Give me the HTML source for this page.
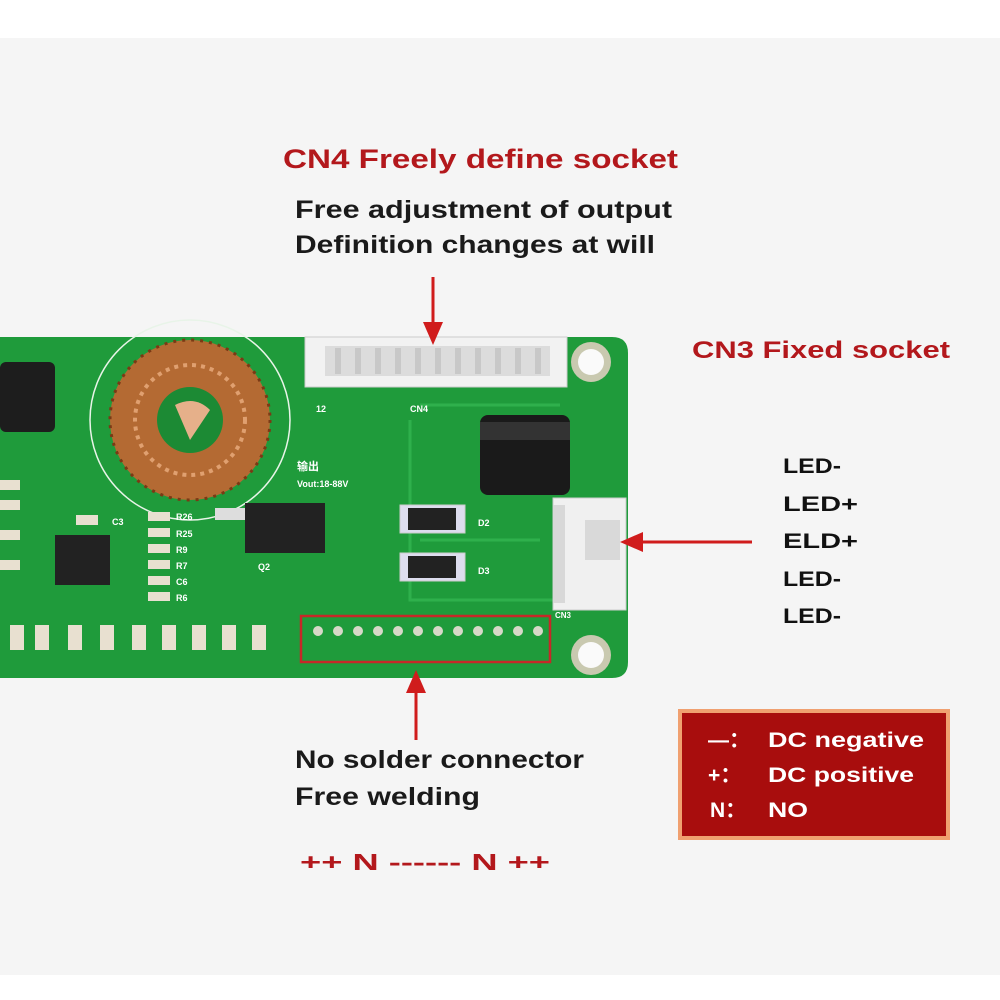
<!DOCTYPE html>
<html><head><meta charset="utf-8"><style>
html,body{margin:0;padding:0;background:#fff}
svg{display:block}
text{font-family:"Liberation Sans","Noto Sans CJK SC",sans-serif;font-weight:bold}
</style></head><body>
<svg width="1000" height="1000" viewBox="0 0 1000 1000" xmlns="http://www.w3.org/2000/svg">
<rect x="0" y="0" width="1000" height="1000" fill="#ffffff"/>
<rect x="0" y="38" width="1000" height="937" fill="#f5f5f5"/>
<!-- PCB -->
<path d="M0 337 H612 Q628 337 628 353 V662 Q628 678 612 678 H0 Z" fill="#1f9b3b"/>
<path d="M420 405 H560 M410 420 V600 H560 M420 540 H540" stroke="#2fb04c" stroke-width="3" fill="none"/>
<!-- CN4 connector -->
<rect x="305" y="337" width="262" height="50" fill="#f2f2f2" stroke="#ccc"/>
<rect x="325" y="346" width="225" height="30" fill="#dcdcdc"/>
<g fill="#c8c8c8"><rect x="335" y="348" width="6" height="26"/><rect x="355" y="348" width="6" height="26"/><rect x="375" y="348" width="6" height="26"/><rect x="395" y="348" width="6" height="26"/><rect x="415" y="348" width="6" height="26"/><rect x="435" y="348" width="6" height="26"/><rect x="455" y="348" width="6" height="26"/><rect x="475" y="348" width="6" height="26"/><rect x="495" y="348" width="6" height="26"/><rect x="515" y="348" width="6" height="26"/><rect x="535" y="348" width="6" height="26"/></g>
<text x="316" y="412" font-size="9" fill="#fff" font-weight="normal">12</text>
<text x="410" y="412" font-size="9" fill="#fff" font-weight="normal">CN4</text>
<!-- mounting holes -->
<circle cx="591" cy="362" r="20" fill="#c9c9b0"/><circle cx="591" cy="362" r="13" fill="#fafafa"/>
<circle cx="591" cy="655" r="20" fill="#c9c9b0"/><circle cx="591" cy="655" r="13" fill="#fafafa"/>
<!-- toroid -->
<circle cx="190" cy="420" r="100" fill="none" stroke="#e8f4e8" stroke-width="1.5"/>
<circle cx="190" cy="420" r="80" fill="#b46a33"/>
<circle cx="190" cy="420" r="80" fill="none" stroke="#7a3a15" stroke-width="3" stroke-dasharray="3 6"/>
<circle cx="190" cy="420" r="55" fill="none" stroke="#e0a070" stroke-width="4" stroke-dasharray="4 5"/>
<circle cx="190" cy="420" r="33" fill="#1c8a34"/>
<path d="M175 405 Q195 395 210 410 L190 440 Z" fill="#e6b08a"/>
<!-- capacitors -->
<rect x="0" y="362" width="55" height="70" rx="6" fill="#1d1d1d"/>
<rect x="480" y="415" width="90" height="80" rx="8" fill="#1a1a1a"/>
<rect x="480" y="422" width="90" height="18" fill="#333"/>
<!-- CN3 -->
<rect x="553" y="498" width="73" height="112" fill="#f0f0f0" stroke="#ccc"/>
<rect x="553" y="505" width="12" height="98" fill="#d8d8d8"/>
<rect x="585" y="520" width="35" height="40" fill="#d9d9d9"/>
<text x="555" y="618" font-size="8" fill="#fff" font-weight="normal">CN3</text>
<!-- Q2, D2, D3 -->
<rect x="245" y="503" width="80" height="50" fill="#222"/>
<rect x="215" y="508" width="30" height="12" fill="#ddd"/>
<rect x="400" y="505" width="65" height="28" fill="#dde" stroke="#ccc"/><rect x="408" y="508" width="48" height="22" fill="#222"/>
<rect x="400" y="553" width="65" height="28" fill="#dde" stroke="#ccc"/><rect x="408" y="556" width="48" height="22" fill="#222"/>
<rect x="55" y="535" width="55" height="50" fill="#222"/>
<text x="297" y="470" font-size="11" fill="#fff">输出</text>
<text x="297" y="487" font-size="9" fill="#fff" font-weight="normal">Vout:18-88V</text>
<!-- small resistors -->
<g fill="#e8e0d0"><rect x="148" y="512" width="22" height="9"/><rect x="148" y="528" width="22" height="9"/><rect x="148" y="544" width="22" height="9"/><rect x="148" y="560" width="22" height="9"/><rect x="148" y="576" width="22" height="9"/><rect x="148" y="592" width="22" height="9"/>
<rect x="10" y="625" width="14" height="25"/><rect x="35" y="625" width="14" height="25"/><rect x="68" y="625" width="14" height="25"/><rect x="100" y="625" width="14" height="25"/><rect x="132" y="625" width="14" height="25"/><rect x="162" y="625" width="14" height="25"/><rect x="192" y="625" width="14" height="25"/><rect x="222" y="625" width="14" height="25"/><rect x="252" y="625" width="14" height="25"/>
<rect x="76" y="515" width="22" height="10"/><rect x="0" y="480" width="20" height="10"/><rect x="0" y="500" width="20" height="10"/><rect x="0" y="530" width="20" height="10"/><rect x="0" y="560" width="20" height="10"/></g>
<g fill="#fff" font-size="9" font-weight="normal"><text x="176" y="520">R26</text><text x="176" y="537">R25</text><text x="176" y="553">R9</text><text x="176" y="569">R7</text><text x="176" y="585">C6</text><text x="176" y="601">R6</text><text x="112" y="525">C3</text><text x="258" y="570">Q2</text><text x="478" y="526">D2</text><text x="478" y="574">D3</text></g>
<!-- pin row -->
<rect x="301" y="616" width="249" height="46" fill="none" stroke="#c62828" stroke-width="2.5"/>
<g fill="#d8d8c8"><circle cx="318" cy="631" r="5"/><circle cx="338" cy="631" r="5"/><circle cx="358" cy="631" r="5"/><circle cx="378" cy="631" r="5"/><circle cx="398" cy="631" r="5"/><circle cx="418" cy="631" r="5"/><circle cx="438" cy="631" r="5"/><circle cx="458" cy="631" r="5"/><circle cx="478" cy="631" r="5"/><circle cx="498" cy="631" r="5"/><circle cx="518" cy="631" r="5"/><circle cx="538" cy="631" r="5"/></g>
<!-- arrows -->
<g stroke="#d01c1c" stroke-width="3" fill="#d01c1c">
<line x1="433" y1="277" x2="433" y2="325"/><polygon points="423,322 443,322 433,345" stroke="none"/>
<line x1="752" y1="542" x2="640" y2="542"/><polygon points="643,532 643,552 620,542" stroke="none"/>
<line x1="416" y1="740" x2="416" y2="690"/><polygon points="406,693 426,693 416,670" stroke="none"/>
</g>
<!-- texts -->
<text x="283" y="168" font-size="27" fill="#b3181c" textLength="395" lengthAdjust="spacingAndGlyphs">CN4 Freely define socket</text>
<text x="295" y="218" font-size="25" fill="#1a1a1a" textLength="377" lengthAdjust="spacingAndGlyphs">Free adjustment of output</text>
<text x="295" y="253" font-size="25" fill="#1a1a1a" textLength="360" lengthAdjust="spacingAndGlyphs">Definition changes at will</text>
<text x="692" y="358" font-size="24" fill="#b3181c" textLength="258" lengthAdjust="spacingAndGlyphs">CN3 Fixed socket</text>
<g font-size="21" fill="#111"><text x="783" y="473" textLength="58" lengthAdjust="spacingAndGlyphs">LED-</text><text x="783" y="511" textLength="75" lengthAdjust="spacingAndGlyphs">LED+</text><text x="783" y="548" textLength="75" lengthAdjust="spacingAndGlyphs">ELD+</text><text x="783" y="586" textLength="58" lengthAdjust="spacingAndGlyphs">LED-</text><text x="783" y="623" textLength="58" lengthAdjust="spacingAndGlyphs">LED-</text></g>
<text x="295" y="768" font-size="25" fill="#1a1a1a" textLength="289" lengthAdjust="spacingAndGlyphs">No solder connector</text>
<text x="295" y="805" font-size="25" fill="#1a1a1a" textLength="185" lengthAdjust="spacingAndGlyphs">Free welding</text>
<text x="300" y="870" font-size="23" fill="#b3181c" textLength="250" lengthAdjust="spacingAndGlyphs">++ N ------ N ++</text>
<!-- legend -->
<rect x="680" y="711" width="268" height="127" fill="#a80d0d" stroke="#f0a070" stroke-width="4"/>
<g font-size="21" fill="#fff"><text x="708" y="747">—：</text><text x="768" y="747" textLength="156" lengthAdjust="spacingAndGlyphs">DC negative</text>
<text x="708" y="782">+：</text><text x="768" y="782" textLength="146" lengthAdjust="spacingAndGlyphs">DC positive</text>
<text x="710" y="817">N：</text><text x="768" y="817" textLength="40" lengthAdjust="spacingAndGlyphs">NO</text></g>
</svg>
</body></html>
